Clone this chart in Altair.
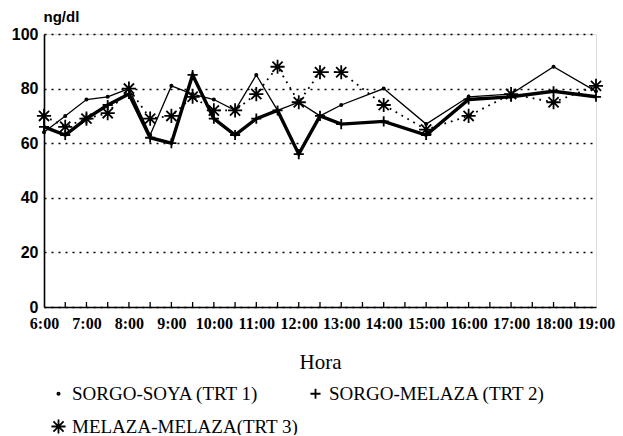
import altair as alt
import pandas as pd

hours = [6, 6.5, 7, 7.5, 8, 8.5, 9, 9.5, 10, 10.5, 11, 11.5, 12, 12.5, 13, 14, 15, 16, 17, 18, 19]
trt1 = [64, 70, 76, 77, 80, 63, 81, 78, 76, 72, 85, 72, 75, 70, 74, 80, 67, 77, 78, 88, 79]
trt2 = [66, 63, 69, 74, 78, 62, 60, 85, 69, 63, 69, 72, 56, 70, 67, 68, 63, 76, 77, 79, 77]
trt3 = [70, 66, 69, 71, 80, 69, 70, 77, 72, 72, 78, 88, 75, 86, 86, 74, 65, 70, 78, 75, 81]
series = ["SORGO-SOYA (TRT 1)", "SORGO-MELAZA (TRT 2)", "MELAZA-MELAZA(TRT 3)"]
hour_labels = [6, 7, 8, 9, 10, 11, 12, 13, 14, 15, 16, 17, 18, 19]
minor_ticks = [6.5, 7, 7.5, 8, 8.5, 9, 9.5, 10, 10.5, 11, 11.5, 12, 12.5, 13,
               13.5, 14, 14.5, 15, 15.5, 16, 16.5, 17, 17.5, 18, 18.5]
y_ticks = [0, 20, 40, 60, 80, 100]

rows = []
for name, vals in zip(series, [trt1, trt2, trt3]):
    for h, v in zip(hours, vals):
        rows.append({"hour": h, "value": v, "series": name})
df = pd.DataFrame(rows)
ticks_df = pd.DataFrame({"t": minor_ticks})

W, H = 552, 273

xscale = alt.Scale(domain=[6, 19], nice=False, zero=False)
yscale = alt.Scale(domain=[0, 100], nice=False)

x_axis = alt.Axis(
    values=hour_labels, labelExpr="datum.value + ':00'", title="Hora",
    ticks=False, grid=False, labelOverlap=False, labelFlush=False,
    labelFont="Liberation Serif", labelFontWeight="bold", labelFontSize=16,
    labelColor="black", labelPadding=8,
    titleFont="Liberation Serif", titleFontWeight="normal", titleFontSize=21,
    titleColor="black", titlePadding=20,
    domainColor="black", domainWidth=1.6,
)
y_axis = alt.Axis(
    values=y_ticks, title="ng/dl", ticks=False,
    grid=True, gridColor="black", gridDash=[2, 5], gridWidth=1.5, gridOpacity=1,
    labelFont="Liberation Sans", labelFontWeight="bold", labelFontSize=16,
    labelColor="black", labelPadding=6,
    titleFont="Liberation Sans", titleFontWeight="bold", titleFontSize=15,
    titleColor="black", titleAngle=0, titleX=-1, titleY=-13, titleAlign="left",
    titleBaseline="alphabetic",
    domainColor="black", domainWidth=1.6,
)

plus = "M-1,0H1M0,-1V1"
star = "M-1,0H1M0,-1V1M-0.72,-0.72L0.72,0.72M-0.72,0.72L0.72,-0.72"

line_styles = {
    series[0]: dict(strokeWidth=1.3),
    series[1]: dict(strokeWidth=3.4),
    series[2]: dict(strokeWidth=1.8, strokeDash=[1.8, 5]),
}

line_layers = []
for i, s in enumerate(series):
    enc = dict(x=alt.X("hour:Q", scale=xscale), y=alt.Y("value:Q", scale=yscale))
    if i == 0:
        enc = dict(x=alt.X("hour:Q", scale=xscale, axis=x_axis),
                   y=alt.Y("value:Q", scale=yscale, axis=y_axis))
    line_layers.append(
        alt.Chart(df).transform_filter(alt.datum.series == s)
        .mark_line(color="black", **line_styles[s]).encode(**enc)
    )

leg = alt.Legend(
    title=None, orient="none", legendX=5, legendY=350, columns=2,
    direction="horizontal", columnPadding=7, rowPadding=11,
    labelFont="Liberation Serif", labelFontSize=19, labelColor="black",
    labelLimit=400, symbolStrokeColor="black", symbolStrokeWidth=1.8,
)

points = alt.Chart(df).mark_point(filled=False, opacity=1, strokeWidth=1.8, color="black").encode(
    x=alt.X("hour:Q", scale=xscale),
    y=alt.Y("value:Q", scale=yscale),
    shape=alt.Shape("series:N", scale=alt.Scale(domain=series, range=["circle", plus, star]), legend=leg),
    size=alt.Size("series:N", scale=alt.Scale(domain=series, range=[5, 200, 160]), legend=leg),
)

ticks = alt.Chart(ticks_df).mark_rule(color="black", strokeWidth=1.3).encode(
    x=alt.X("t:Q", scale=xscale),
    y=alt.value(H),
    y2=alt.value(H - 5),
)

chart = alt.layer(*line_layers, points, ticks).properties(
    width=W, height=H,
    autosize=alt.AutoSizeParams(type="none"),
    padding={"left": 36, "top": 26, "right": 19, "bottom": 128},
).configure_view(stroke="black", strokeWidth=1.6).configure(background="white")

chart.save("out.html", embed_options={"renderer": "svg", "actions": False})
